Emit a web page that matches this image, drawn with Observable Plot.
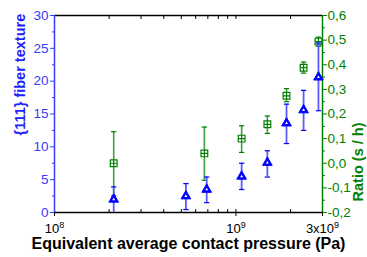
<!DOCTYPE html>
<html>
<head>
<meta charset="utf-8">
<script src="https://cdn.jsdelivr.net/npm/d3@7"></script>
<script src="https://cdn.jsdelivr.net/npm/@observablehq/plot@0.6"></script>
<style>
  html, body { margin: 0; padding: 0; background: white; }
</style>
</head>
<body>
<div id="chart"></div>
<script>
// ---- data ----
const pressure = [2.12e8, 5.3e8, 6.9e8, 1.075e9, 1.49e9, 1.9e9, 2.36e9, 2.85e9];
const texture = [2.0, 2.5, 3.5, 5.5, 7.6, 13.6, 15.6, 20.6];
const textureLow = [-0.5, 0.45, 1.5, 3.5, 5.4, 10.5, 12.5, 15.5];
const textureHigh = [3.9, 4.4, 5.4, 7.5, 9.4, 16.5, 18.6, 25.8];

const ratioPressure = [2.12e8, 6.7e8, 1.075e9, 1.49e9, 1.9e9, 2.36e9, 2.85e9];
const ratio = [0.0, 0.04, 0.10, 0.158, 0.274, 0.388, 0.494];
const ratioLow = [-0.132, -0.069, 0.044, 0.121, 0.25, 0.366, 0.475];
const ratioHigh = [0.128, 0.147, 0.152, 0.192, 0.303, 0.411, 0.512];

const xTicks = [1e8, 1e9, 3e9];
const xTickLabels = ["10^8", "10^9", "3x10^9"];
const xMinorTicks = [2e8, 3e8, 4e8, 5e8, 6e8, 7e8, 8e8, 9e8, 1e9, 2e9];
const yTicks = [0, 5, 10, 15, 20, 25, 30];
const yMinorTicks = [2.5, 7.5, 12.5, 17.5, 22.5, 27.5];
const ratioTicks = [-0.2, -0.1, 0.0, 0.1, 0.2, 0.3, 0.4, 0.5, 0.6];
const ratioMinorTicks = [-0.15, -0.05, 0.05, 0.15, 0.25, 0.35, 0.45, 0.55];
const ratioDomain = [-0.2, 0.6];
const yDomain = [0, 30];

const xTitle = "Equivalent average contact pressure (Pa)";
const yTitle = "{111} fiber texture";
const y2Title = "Ratio (s / h)";

// map ratio (right axis) linearly onto left axis y scale
const toY = r => (r - ratioDomain[0]) / (ratioDomain[1] - ratioDomain[0]) * (yDomain[1] - yDomain[0]) + yDomain[0];
const fromY = y => (y - yDomain[0]) / (yDomain[1] - yDomain[0]) * (ratioDomain[1] - ratioDomain[0]) + ratioDomain[0];

const texData = pressure.map((p, i) => ({p, v: texture[i], lo: textureLow[i], hi: textureHigh[i]}));
const ratData = ratioPressure.map((p, i) => ({p, v: toY(ratio[i]), lo: toY(ratioLow[i]), hi: toY(ratioHigh[i])}));

const BLUE = "#0000ff", BLUE_AX = "#3a3aff", BLUE_ERR = "#5a5aff";
const GREEN = "#008000", GREEN_ERR = "#3f9f3f";

const squareCross = {draw(ctx, size) {
  const h = Math.sqrt(size) / 2;
  ctx.moveTo(-h, -h); ctx.lineTo(h, -h); ctx.lineTo(h, h); ctx.lineTo(-h, h); ctx.closePath();
  ctx.moveTo(-h, 0); ctx.lineTo(h, 0); ctx.moveTo(0, -h); ctx.lineTo(0, h);
}};
const cap = {draw(ctx, size) {
  const h = Math.sqrt(size) / 2;
  ctx.moveTo(-h, 0); ctx.lineTo(h, 0);
}};

const W = 367, H = 257, ML = 54, MR = 45, MT = 15, MB = 45;

const svg = Plot.plot({
  width: W,
  height: H,
  marginLeft: ML,
  marginRight: MR,
  marginTop: MT,
  marginBottom: MB,
  style: {fontFamily: "'Liberation Sans', Arial, sans-serif", fontSize: "12px", background: "white"},
  x: {type: "log", domain: [1e8, 3e9], axis: null},
  y: {domain: yDomain, axis: null},
  marks: [
    // frame
    Plot.ruleY([0], {stroke: "black", strokeWidth: 1.5}),
    Plot.ruleY([30], {stroke: "black", strokeWidth: 1.5}),
    Plot.ruleX([1e8], {stroke: BLUE_AX, strokeWidth: 1.5}),
    Plot.ruleX([3e9], {stroke: GREEN, strokeWidth: 1.5}),
    // bottom axis
    Plot.axisX({anchor: "bottom", ticks: xTicks, tickSize: 4, tickPadding: 7, tickFormat: d => xTickLabels[xTicks.indexOf(d)], stroke: "black", fill: "black", fontSize: 13, label: null}),
    Plot.axisX({anchor: "bottom", ticks: xMinorTicks, tickSize: -3, fill: "none", stroke: "black", label: null}),
    Plot.axisX({anchor: "top", ticks: xMinorTicks, tickSize: -3, fill: "none", stroke: "black", label: null}),
    // left axis
    Plot.axisY({anchor: "left", ticks: yTicks, tickSize: 4, tickPadding: 2, stroke: BLUE_AX, fill: BLUE_AX, fontSize: 13.5, label: null}),
    Plot.axisY({anchor: "left", ticks: yMinorTicks, tickSize: 2, fill: "none", stroke: BLUE_AX, label: null}),
    // right axis
    Plot.axisY({anchor: "right", ticks: ratioTicks.map(toY), tickSize: 4, tickPadding: 1, stroke: GREEN, fill: GREEN, fontSize: 13.5, label: null,
      tickFormat: d => { const r = Math.round(fromY(d) * 10) / 10; return (r === 0 ? "0.0" : r.toFixed(1)).replace(".", ","); }}),
    Plot.axisY({anchor: "right", ticks: ratioMinorTicks.map(toY), tickSize: 2, fill: "none", stroke: GREEN, label: null}),
    // titles
    Plot.text([xTitle], {frameAnchor: "bottom", dy: 36, fontWeight: "bold", fontSize: 16, fill: "black"}),
    Plot.text([yTitle], {frameAnchor: "left", rotate: -90, fontWeight: "bold", fontSize: 14.5, fill: "#2020ff"}),
    Plot.text([y2Title], {frameAnchor: "right", rotate: -90, fontWeight: "bold", fontSize: 14.5, fill: GREEN}),
    // ratio series (green)
    Plot.ruleX(ratData, {x: "p", y1: "lo", y2: "hi", stroke: GREEN_ERR, strokeWidth: 1.6}),
    Plot.dot(ratData, {x: "p", y: "lo", symbol: cap, r: 3, stroke: GREEN, fill: "none", strokeWidth: 1.2}),
    Plot.dot(ratData, {x: "p", y: "hi", symbol: cap, r: 3, stroke: GREEN, fill: "none", strokeWidth: 1.2}),
    Plot.dot(ratData, {x: "p", y: "v", symbol: squareCross, r: 3.8, stroke: GREEN, fill: "white", strokeWidth: 1.2}),
    // texture series (blue)
    Plot.ruleX(texData, {x: "p", y1: "lo", y2: "hi", stroke: BLUE_ERR, strokeWidth: 1.8, clip: "frame"}),
    Plot.dot(texData, {x: "p", y: "lo", symbol: cap, r: 3, stroke: BLUE, fill: "none", strokeWidth: 1.2, clip: "frame"}),
    Plot.dot(texData, {x: "p", y: "hi", symbol: cap, r: 3, stroke: BLUE, fill: "none", strokeWidth: 1.2}),
    Plot.dot(texData, {x: "p", y: "v", symbol: "triangle", r: 3.6, fill: BLUE, stroke: BLUE, strokeWidth: 1}),
    Plot.dot(texData, {x: "p", y: "v", symbol: "triangle", r: 1.1, fill: "white", stroke: "none"})
  ]
});

// superscripts in tick labels; place rotated axis titles
d3.select(svg).selectAll("text").each(function() {
  const t = this.textContent;
  const sel = d3.select(this);
  if (t.includes("^") && this.children.length === 0) {
    const [base, exp] = t.split("^");
    sel.text(null);
    sel.append("tspan").text(base);
    sel.append("tspan").attr("dy", "-0.5em").attr("font-size", "9px").text(exp);
  } else if (t === yTitle) {
    sel.attr("transform", `translate(${ML - 34.5},${MT + 120}) rotate(-90)`);
  } else if (t === y2Title) {
    sel.attr("transform", `translate(${W - MR + 36},${MT + 107}) rotate(-90)`);
  }
});

document.getElementById("chart").appendChild(svg);
</script>
</body>
</html>
